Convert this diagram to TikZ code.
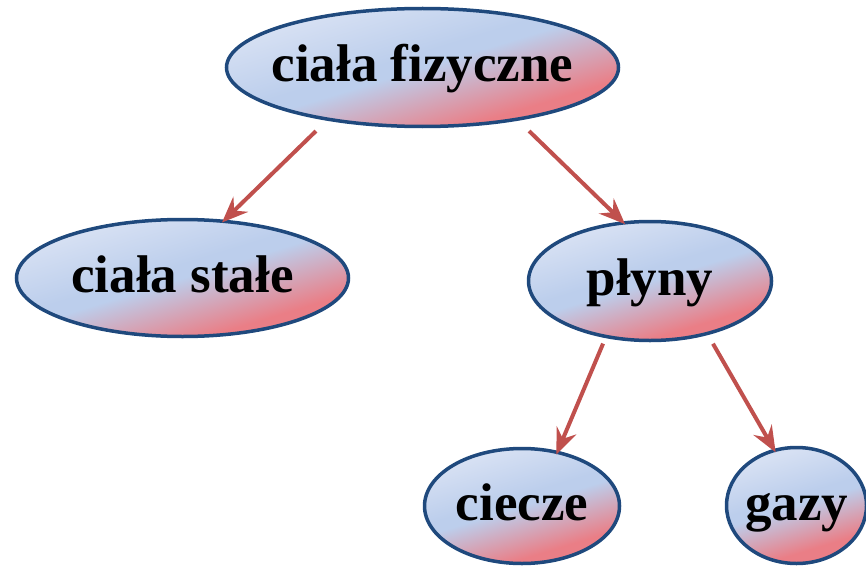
\documentclass[tikz,border=0pt]{standalone}
\usepackage{fontspec}
\setmainfont{Liberation Serif}
\usetikzlibrary{shapes.geometric,arrows.meta,scopes}
\definecolor{ellborder}{HTML}{1F497D}
\definecolor{ellarrow}{HTML}{C0504D}
\definecolor{elllight}{RGB}{214,224,243}
\definecolor{ellmid}{RGB}{188,206,236}
\definecolor{ellred}{RGB}{234,126,134}
\pgfdeclareverticalshading{ellfill}{100bp}{color(0bp)=(ellred); color(31bp)=(ellred); color(50bp)=(ellmid); color(54bp)=(ellmid); color(72bp)=(elllight); color(100bp)=(elllight)}

\begin{document}
\begin{tikzpicture}[x=1pt,y=-1pt,
    ell/.style={ellipse,draw=ellborder,line width=3.5pt,shade,shading=ellfill,shading angle=17,inner sep=0pt,inner xsep=-15pt,font=\fontsize{53}{60}\selectfont\bfseries,text height=37pt,text depth=8pt},
    conn/.style={draw=ellarrow,line width=4pt,-{Stealth[length=26pt,width=21pt,inset=9pt]},shorten >=-4pt}]
        \useasboundingbox (0,0) rectangle (866,567);
        \node[ell,minimum width=392pt,minimum height=118pt] (fizyczne) at (422.5,67.5) {ciała fizyczne};
        \node[ell,minimum width=332pt,minimum height=117pt] (stale) at (182.5,278) {ciała stałe};
        \node[ell,minimum width=243pt,minimum height=119pt] (plyny) at (650,281) {płyny};
        \node[ell,minimum width=195pt,minimum height=115pt] (ciecze) at (522,506) {ciecze};
        \node[ell,minimum width=140pt,minimum height=116pt] (gazy) at (796.5,505.5) {gazy};
        {[conn]
        \draw[shorten <=15pt] (fizyczne.209) -- (stale.54);
        \draw[shorten <=15pt] (fizyczne.331) -- (plyny.115);
        \draw[shorten <=6pt] (plyny.232) -- (ciecze.57);
        \draw[shorten <=10pt] (plyny.317) -- (gazy.112);
        }
    \end{tikzpicture}
\end{document}
